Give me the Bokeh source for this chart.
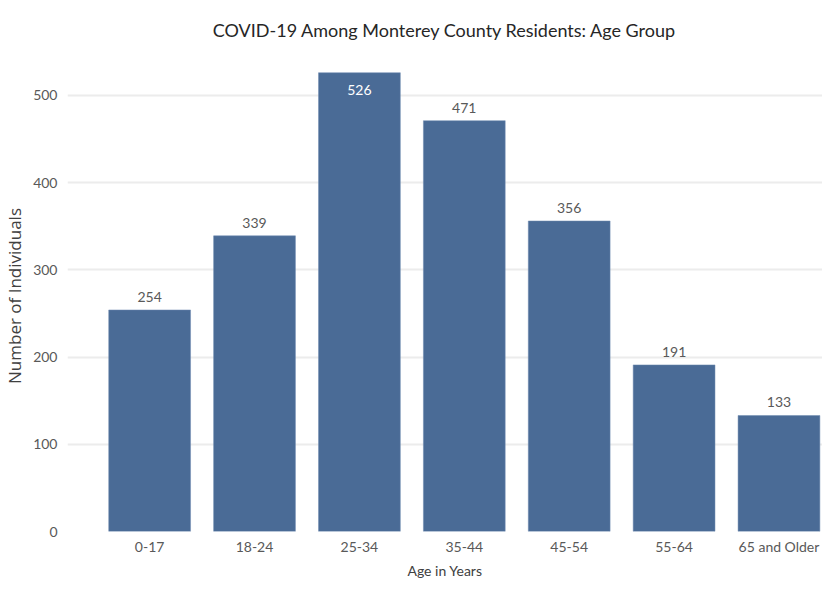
from bokeh.plotting import figure
from bokeh.models import ColumnDataSource, Range1d, FixedTicker, LabelSet
from bokeh.core.properties import value
from bokeh.embed import file_html
from bokeh.resources import INLINE

categories = ["0-17", "18-24", "25-34", "35-44", "45-54", "55-64", "65 and Older"]
counts = [254, 339, 526, 471, 356, 191, 133]
y_ticks = [0, 100, 200, 300, 400, 500]

FONT = "Lato"
BAR = "#4a6b96"

idx = list(range(len(categories)))
inside = [c >= 500 for c in counts]
src = ColumnDataSource(dict(x=idx, top=counts))

p = figure(width=822, height=581, output_backend="svg", toolbar_location=None,
           x_range=Range1d(-0.783, 6.415), y_range=Range1d(0, 540),
           min_border_left=67, min_border_right=0, min_border_top=58, min_border_bottom=48)
p.title.text = "COVID-19 Among Monterey County Residents: Age Group"
p.title.align = "center"
p.title.vertical_align = "top"
p.title.text_font = FONT
p.title.text_font_size = "18px"
p.title.text_font_style = "normal"
p.title.text_color = "#262626"
p.title.offset = 0
p.title.standoff = 36

p.vbar(x="x", top="top", width=0.78, source=src, color=BAR, line_color="#6f8bb0", line_width=0.5)

above = ColumnDataSource(dict(x=[i for i in idx if not inside[i]], y=[counts[i] for i in idx if not inside[i]],
                              t=[str(counts[i]) for i in idx if not inside[i]]))
inner = ColumnDataSource(dict(x=[i for i in idx if inside[i]], y=[counts[i] for i in idx if inside[i]],
                              t=[str(counts[i]) for i in idx if inside[i]]))
p.add_layout(LabelSet(x="x", y="y", text="t", source=above, text_align="center", text_baseline="bottom",
                      y_offset=8, text_font=value(FONT), text_font_size=value("14px"), text_color="#595959"))
p.add_layout(LabelSet(x="x", y="y", text="t", source=inner, text_align="center", text_baseline="top",
                      y_offset=-12, text_font=value(FONT), text_font_size=value("14px"), text_color="#ffffff"))

p.xaxis.ticker = FixedTicker(ticks=idx)
p.xaxis.major_label_overrides = {i: c for i, c in enumerate(categories)}
p.yaxis.ticker = FixedTicker(ticks=y_ticks)
for ax in (p.xaxis, p.yaxis):
    ax.axis_line_color = None
    ax.major_tick_line_color = None
    ax.minor_tick_line_color = None
    ax.major_tick_in = 0
    ax.major_tick_out = 0
    ax.major_label_text_font = FONT
    ax.major_label_text_font_size = "14px"
    ax.major_label_text_color = "#595959"
p.xaxis.major_label_standoff = 6
p.yaxis.major_label_standoff = 10

p.xaxis.axis_label = "Age in Years"
p.xaxis.axis_label_text_font = FONT
p.xaxis.axis_label_text_font_style = "normal"
p.xaxis.axis_label_text_font_size = "14px"
p.xaxis.axis_label_text_color = "#404040"
p.xaxis.axis_label_standoff = 4

p.yaxis.axis_label = "Number of Individuals"
p.yaxis.axis_label_text_font = "Open Sans"
p.yaxis.axis_label_text_font_style = "normal"
p.yaxis.axis_label_text_font_size = "17px"
p.yaxis.axis_label_text_color = "#404040"
p.yaxis.axis_label_standoff = 4

p.xgrid.grid_line_color = None
p.ygrid.grid_line_color = "#ececec"
p.ygrid.grid_line_width = 2
p.outline_line_color = None
p.background_fill_color = "white"
p.border_fill_color = "white"

open("out.html", "w").write(file_html(p, INLINE))
